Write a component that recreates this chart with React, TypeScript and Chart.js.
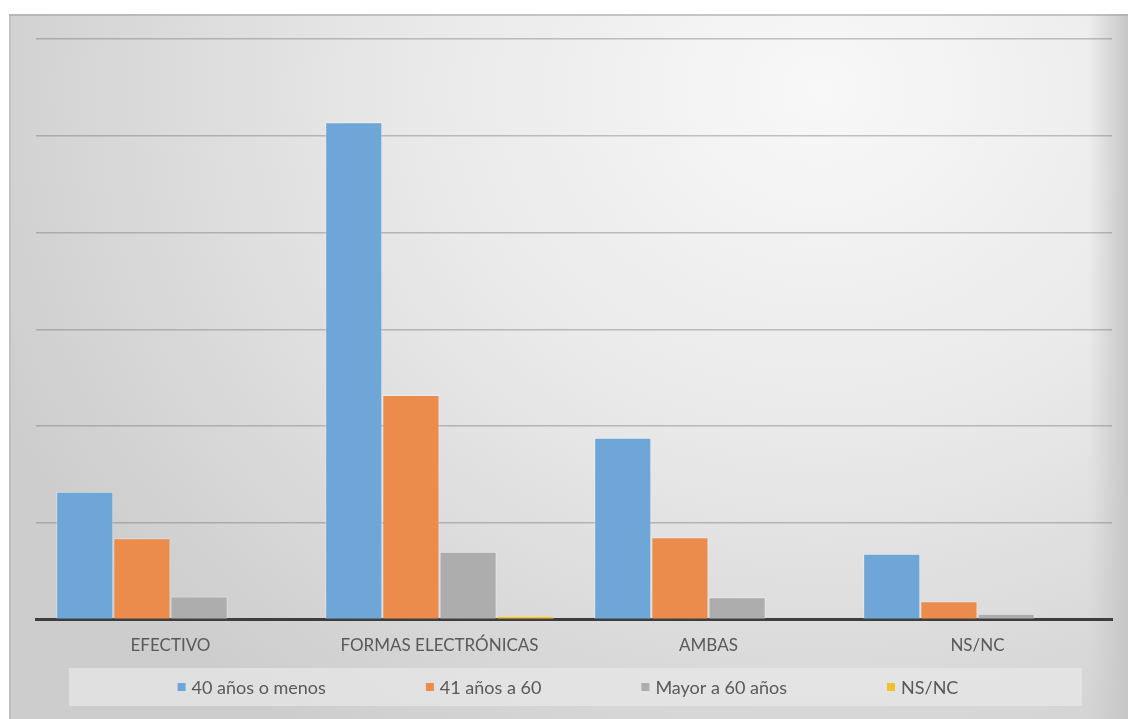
import React, { useEffect, useRef } from "react";
import { Chart, registerables } from "chart.js";

Chart.register(...registerables);

const categories = ["EFECTIVO", "FORMAS ELECTRÓNICAS", "AMBAS", "NS/NC"];
const seriesLabels = ["40 años o menos", "41 años a 60", "Mayor a 60 años", "NS/NC"];
const menos40 = [13.2, 51.4, 18.8, 6.8];
const de41a60 = [8.4, 23.2, 8.5, 1.9];
const mayor60 = [2.4, 7.0, 2.3, 0.6];
const nsnc = [0, 0.4, 0, 0];
const seriesColors = ["#6fa6d8", "#eb8c4c", "#adadad", "#f2c12e"];
const yMax = 60;
const yStep = 10;

const FONT = "Lato, 'Open Sans', sans-serif";

const bgPlugin = {
  id: "bgPlugin",
  beforeDraw(chart: any) {
    const ctx = chart.ctx as CanvasRenderingContext2D;
    const W = chart.width;
    const H = chart.height;
    ctx.save();
    ctx.fillStyle = "#ffffff";
    ctx.fillRect(0, 0, W, H);
    const x0 = 9, y0 = 14;
    ctx.save();
    ctx.beginPath();
    ctx.rect(x0, y0, W - x0, H - y0);
    ctx.clip();
    const cx = 820, cy = 90, rx = 900, ry = 780;
    ctx.translate(cx, cy);
    ctx.scale(rx / ry, 1);
    const g = ctx.createRadialGradient(0, 0, 0, 0, 0, ry);
    g.addColorStop(0, "#f8f8f8");
    g.addColorStop(0.45, "#e9e9e9");
    g.addColorStop(1, "#cdcdcd");
    ctx.fillStyle = g;
    ctx.fillRect(-cx * 2, -cy - 10, W * 3, H * 2);
    ctx.restore();
    const lg = ctx.createLinearGradient(W - 40, 0, W, 0);
    lg.addColorStop(0, "rgba(200,200,200,0)");
    lg.addColorStop(1, "rgba(198,198,198,1)");
    ctx.fillStyle = lg;
    ctx.fillRect(W - 40, y0, 40, H - y0);
    ctx.fillStyle = "rgba(160,160,160,0.55)";
    ctx.fillRect(x0, y0, W - x0, 2);
    ctx.fillStyle = "rgba(175,175,175,0.45)";
    ctx.fillRect(x0, y0, 2, H - y0);
    ctx.restore();
  },
  afterDraw(chart: any) {
    const ctx = chart.ctx as CanvasRenderingContext2D;
    ctx.save();
    ctx.fillStyle = "rgba(232,232,232,0.7)";
    ctx.fillRect(69, 668, 1013, 38);
    ctx.font = `18px ${FONT}`;
    ctx.textBaseline = "middle";
    const ds = chart.data.datasets;
    const box = 8;
    const gapBoxText = 6;
    const gap = 100;
    const widths = ds.map((d: any) => box + gapBoxText + ctx.measureText(d.label).width);
    const total = widths.reduce((a: number, b: number) => a + b, 0) + gap * (ds.length - 1);
    let x = 568 - total / 2;
    const yc = 687;
    ds.forEach((d: any, i: number) => {
      ctx.fillStyle = d.backgroundColor;
      ctx.fillRect(x, yc - box / 2, box, box);
      ctx.fillStyle = "#595959";
      ctx.fillText(d.label, x + box + gapBoxText, yc + 1);
      x += widths[i] + gap;
    });
    ctx.restore();
  },
};

export default function App() {
  const ref = useRef<HTMLCanvasElement | null>(null);
  useEffect(() => {
    document.body.style.margin = "0";
    const canvas = ref.current;
    if (!canvas) return;
    const data = [menos40, de41a60, mayor60, nsnc];
    const chart = new Chart(canvas, {
      type: "bar",
      data: {
        labels: categories,
        datasets: seriesLabels.map((label, i) => ({
          label,
          data: data[i],
          backgroundColor: seriesColors[i],
          borderColor: "rgba(255,255,255,0.35)",
          borderWidth: 1,
          categoryPercentage: 0.85,
          barPercentage: 1,
        })),
      },
      options: {
        animation: false,
        responsive: false,
        devicePixelRatio: 1,
        layout: { padding: { left: 36, right: 16, top: 39, bottom: 47 } },
        plugins: {
          legend: { display: false },
          tooltip: { enabled: false },
        },
        scales: {
          x: {
            grid: { display: false, drawTicks: false },
            border: { display: true, color: "#3d3d3d", width: 3 },
            ticks: {
              color: "#595959",
              font: { family: FONT, size: 17 },
              padding: 16,
              maxRotation: 0,
            },
          },
          y: {
            min: 0,
            max: yMax,
            ticks: { display: false, stepSize: yStep },
            grid: {
              color: "rgba(110,110,110,0.4)",
              lineWidth: 1.6,
              drawTicks: false,
            },
            border: { display: false },
          },
        },
      },
      plugins: [bgPlugin],
    });
    return () => chart.destroy();
  }, []);
  return <canvas ref={ref} width={1128} height={719} style={{ display: "block" }} />;
}
